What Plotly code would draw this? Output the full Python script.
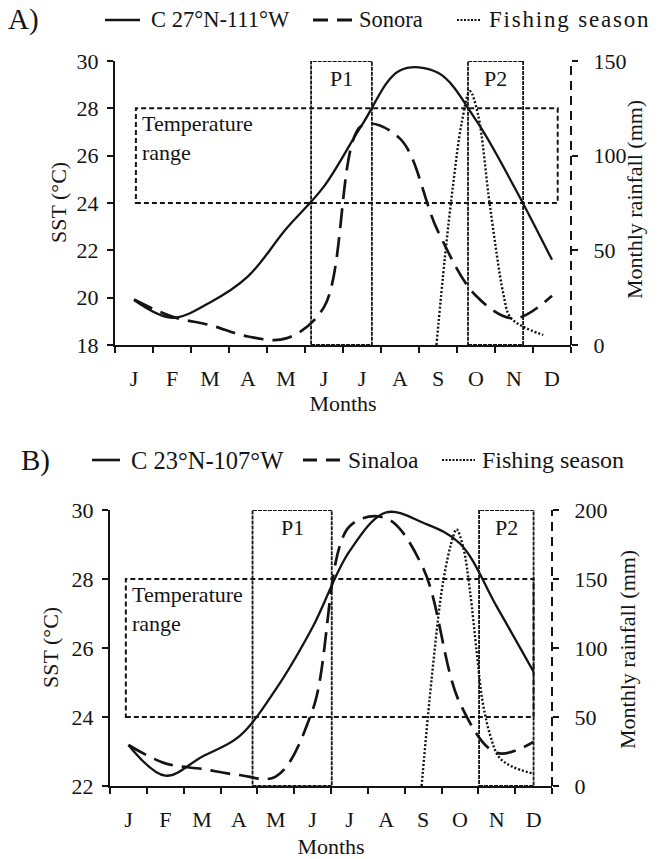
import plotly.graph_objects as go

# ---------------- data ----------------
months = ["J", "F", "M", "A", "M", "J", "J", "A", "S", "O", "N", "D"]
month_pos = [0.5, 1.5, 2.5, 3.5, 4.5, 5.5, 6.5, 7.5, 8.5, 9.5, 10.5, 11.5]

# Panel A
sst_a = [19.9, 19.15, 19.8, 20.9, 22.9, 24.7, 27.3, 29.6, 29.5, 27.5, 24.7, 21.6]
sonora_rain = [24, 15, 10.5, 4.5, 3.5, 20, 116, 109, 60, 26, 14, 26]
fish_a_x = [8.46, 8.68, 8.9, 9.12, 9.34, 9.55, 9.87, 10.22, 10.39, 10.74, 11.27]
fish_a_y = [0, 46, 85, 117, 134, 122, 73, 27, 15, 9.7, 5.3]
temp_range_a = [24, 28]
temp_box_a_x = [0.55, 11.65]
p1_a = [5.16, 6.76]
p2_a = [9.29, 10.74]

# Panel B
sst_b = [23.19, 22.3, 22.85, 23.43, 24.8, 26.6, 28.8, 29.93, 29.63, 29.03, 27.2, 25.31]
sinaloa_rain = [29.7, 16.4, 12.3, 8.0, 6.8, 55, 188, 194, 158, 60, 24, 32]
fish_b_x = [8.46, 8.73, 9.05, 9.32, 9.41, 9.59, 9.77, 9.96, 10.11, 10.33, 10.56, 10.92, 11.47]
fish_b_y = [0, 77, 149, 181, 186, 173, 142, 96, 62, 36, 21, 14, 9.2]
temp_range_b = [24, 28]
temp_box_b_x = [0.43, 11.5]
p1_b = [3.87, 6.02]
p2_b = [10.02, 11.5]

# ---------------- figure ----------------
W, H = 659, 859
FONT = "Liberation Serif"
BLACK = "#141414"


def px(x):
    return x / W


def py(y):
    return 1 - y / H


fig = go.Figure()

SOLID = dict(color=BLACK, width=2.3, shape="spline")
DASHED = dict(color=BLACK, width=2.7, dash="20px,9px", shape="spline")
DOTTED = dict(color=BLACK, width=2.4, dash="2px,2px", shape="spline")

# Panel A traces
fig.add_trace(go.Scatter(x=month_pos, y=sst_a, mode="lines", line=SOLID,
                         xaxis="x", yaxis="y", showlegend=False, name="C 27°N-111°W"))
fig.add_trace(go.Scatter(x=month_pos, y=sonora_rain, mode="lines", line=DASHED,
                         xaxis="x", yaxis="y2", showlegend=False, name="Sonora"))
fig.add_trace(go.Scatter(x=fish_a_x, y=fish_a_y, mode="lines", line=DOTTED,
                         xaxis="x", yaxis="y2", showlegend=False, name="Fishing season"))

# Panel B traces
fig.add_trace(go.Scatter(x=month_pos, y=sst_b, mode="lines", line=SOLID,
                         xaxis="x2", yaxis="y3", showlegend=False, name="C 23°N-107°W"))
fig.add_trace(go.Scatter(x=month_pos, y=sinaloa_rain, mode="lines", line=DASHED,
                         xaxis="x2", yaxis="y4", showlegend=False, name="Sinaloa"))
fig.add_trace(go.Scatter(x=fish_b_x, y=fish_b_y, mode="lines", line=DOTTED,
                         xaxis="x2", yaxis="y4", showlegend=False, name="Fishing season"))

tickfont = dict(family=FONT, size=22, color=BLACK)
titlefont = dict(family=FONT, size=22, color=BLACK)


def xaxis_cfg(domain, anchor, title_standoff):
    return dict(domain=domain, anchor=anchor, range=[0, 12], tickmode="array", tickvals=month_pos,
                ticktext=months, ticks="", showline=True, linewidth=2, linecolor=BLACK, showgrid=False,
                zeroline=False, tickfont=tickfont, ticklabelstandoff=13,
                minor=dict(tickmode="array", tickvals=list(range(13)), ticks="outside", ticklen=6,
                           tickwidth=2, tickcolor=BLACK, showgrid=False),
                title=dict(text="Months", font=titlefont, standoff=title_standoff), automargin=False)


def yleft_cfg(domain, anchor, rng, tv):
    return dict(domain=domain, anchor=anchor, range=rng, tickvals=tv, ticks="outside", ticklen=6, tickwidth=2,
                tickcolor=BLACK, showline=True, linewidth=2, linecolor=BLACK, showgrid=False, zeroline=False,
                tickfont=tickfont, ticklabelstandoff=4, automargin=False)


def yright_cfg(overlay, anchor, rng, tv):
    return dict(overlaying=overlay, anchor=anchor, side="right", range=rng, tickvals=tv, ticks="outside",
                ticklen=6, tickwidth=2, tickcolor=BLACK, showline=False, showgrid=False, zeroline=False,
                tickfont=tickfont, ticklabelstandoff=11, automargin=False)


xa_dom = [px(115), px(571)]
ya_dom = [py(345), py(61)]
xb_dom = [px(110), px(552)]
yb_dom = [py(786), py(510)]

fig.update_layout(
    width=W, height=H, margin=dict(l=0, r=0, t=0, b=0),
    paper_bgcolor="white", plot_bgcolor="white",
    font=dict(family=FONT, color=BLACK),
    xaxis=xaxis_cfg(xa_dom, "y", 3),
    yaxis=yleft_cfg(ya_dom, "x", [18, 30], [18, 20, 22, 24, 26, 28, 30]),
    yaxis2=yright_cfg("y", "x", [0, 150], [0, 50, 100, 150]),
    xaxis2=xaxis_cfg(xb_dom, "y3", 8),
    yaxis3=yleft_cfg(yb_dom, "x2", [22, 30], [22, 24, 26, 28, 30]),
    yaxis4=yright_cfg("y3", "x2", [0, 200], [0, 50, 100, 150, 200]),
    showlegend=False,
)

shapes = []
annotations = []


def box(xr, yr, x0, x1, y0, y1, dash, width):
    shapes.append(dict(type="rect", xref=xr, yref=yr, x0=x0, x1=x1, y0=y0, y1=y1,
                       line=dict(color=BLACK, width=width, dash=dash), fillcolor="rgba(0,0,0,0)", layer="below"))


# Panel A boxes
box("x", "y", temp_box_a_x[0], temp_box_a_x[1], temp_range_a[0], temp_range_a[1], "5px,3px", 2)
box("x", "y", p1_a[0], p1_a[1], 18, 30, "4px,1px", 1.8)
box("x", "y", p2_a[0], p2_a[1], 18, 30, "4px,1px", 1.8)
# Panel B boxes
box("x2", "y3", temp_box_b_x[0], temp_box_b_x[1], temp_range_b[0], temp_range_b[1], "5px,3px", 2)
box("x2", "y3", p1_b[0], p1_b[1], 22, 30, "4px,1px", 1.8)
box("x2", "y3", p2_b[0], p2_b[1], 22, 30, "4px,1px", 1.8)

# dashed right axes
shapes.append(dict(type="line", xref="x domain", yref="y domain", x0=1, x1=1, y0=0, y1=1,
                   line=dict(color=BLACK, width=2, dash="9px,6px")))
shapes.append(dict(type="line", xref="x2 domain", yref="y3 domain", x0=1, x1=1, y0=0, y1=1,
                   line=dict(color=BLACK, width=2, dash="9px,6px")))

lblfont = dict(family=FONT, size=22, color=BLACK)
# P labels
for xr, yr, p, txt in [("x", "y", p1_a, "P1"), ("x", "y", p2_a, "P2"), ("x2", "y3", p1_b, "P1"), ("x2", "y3", p2_b, "P2")]:
    annotations.append(dict(xref=xr, yref=yr, x=(p[0] + p[1]) / 2, y=30, yanchor="top", yshift=-3,
                            text=txt, showarrow=False, font=lblfont))
# Temperature range labels
annotations.append(dict(xref="x", yref="y", x=temp_box_a_x[0], y=temp_range_a[1], xanchor="left", yanchor="top",
                        xshift=4, yshift=-1, align="left", text="Temperature<br>range", showarrow=False, font=lblfont))
annotations.append(dict(xref="x2", yref="y3", x=temp_box_b_x[0], y=temp_range_b[1], xanchor="left", yanchor="top",
                        xshift=4, yshift=-1, align="left", text="Temperature<br>range", showarrow=False, font=lblfont))

# Axis titles (rotated)
for (x, y, txt) in [(58, 203, "SST (°C)"), (50, 648, "SST (°C)"),
                    (634, 200, "Monthly rainfall (mm)"), (627, 650, "Monthly rainfall (mm)")]:
    annotations.append(dict(xref="paper", yref="paper", x=px(x), y=py(y), xanchor="center", yanchor="middle",
                            text=txt, textangle=-90, showarrow=False, font=titlefont))


# Manual legends
def legend_row(yc, panel_label, items, label_x):
    annotations.append(dict(xref="paper", yref="paper", x=px(label_x), y=py(yc), xanchor="left", yanchor="middle",
                            text=panel_label, showarrow=False, font=dict(family=FONT, size=29, color=BLACK)))
    for (sx0, sx1, dash, width, tx, text, size) in items:
        shapes.append(dict(type="line", xref="paper", yref="paper", x0=px(sx0), x1=px(sx1), y0=py(yc), y1=py(yc),
                           line=dict(color=BLACK, width=width, dash=dash)))
        annotations.append(dict(xref="paper", yref="paper", x=px(tx), y=py(yc), xanchor="left", yanchor="middle",
                                text=text, showarrow=False, font=dict(family=FONT, size=size, color=BLACK)))


legend_row(20, "A)", [
    (105, 140, "solid", 2.6, 149, "C 27°N-111°W", 22.5),
    (313, 352, "15px,9px", 3.2, 357, "Sonora", 22.5),
    (457, 481, "2px,1.5px", 2.2, 487,
     '<span style="letter-spacing:1.8px">Fishing season</span>', 23),
], 6)
legend_row(460, "B)", [
    (92, 120, "solid", 2.6, 129, "C 23°N-107°W", 24.5),
    (303, 340, "14px,9px", 3.2, 346, "Sinaloa", 23.5),
    (442, 475, "2px,1.5px", 2.2, 480, "Fishing season", 24),
], 19)

fig.update_layout(shapes=shapes, annotations=annotations)
fig.write_html("out.html", config={"displayModeBar": False},
               post_script="document.body.style.margin='0px';")
